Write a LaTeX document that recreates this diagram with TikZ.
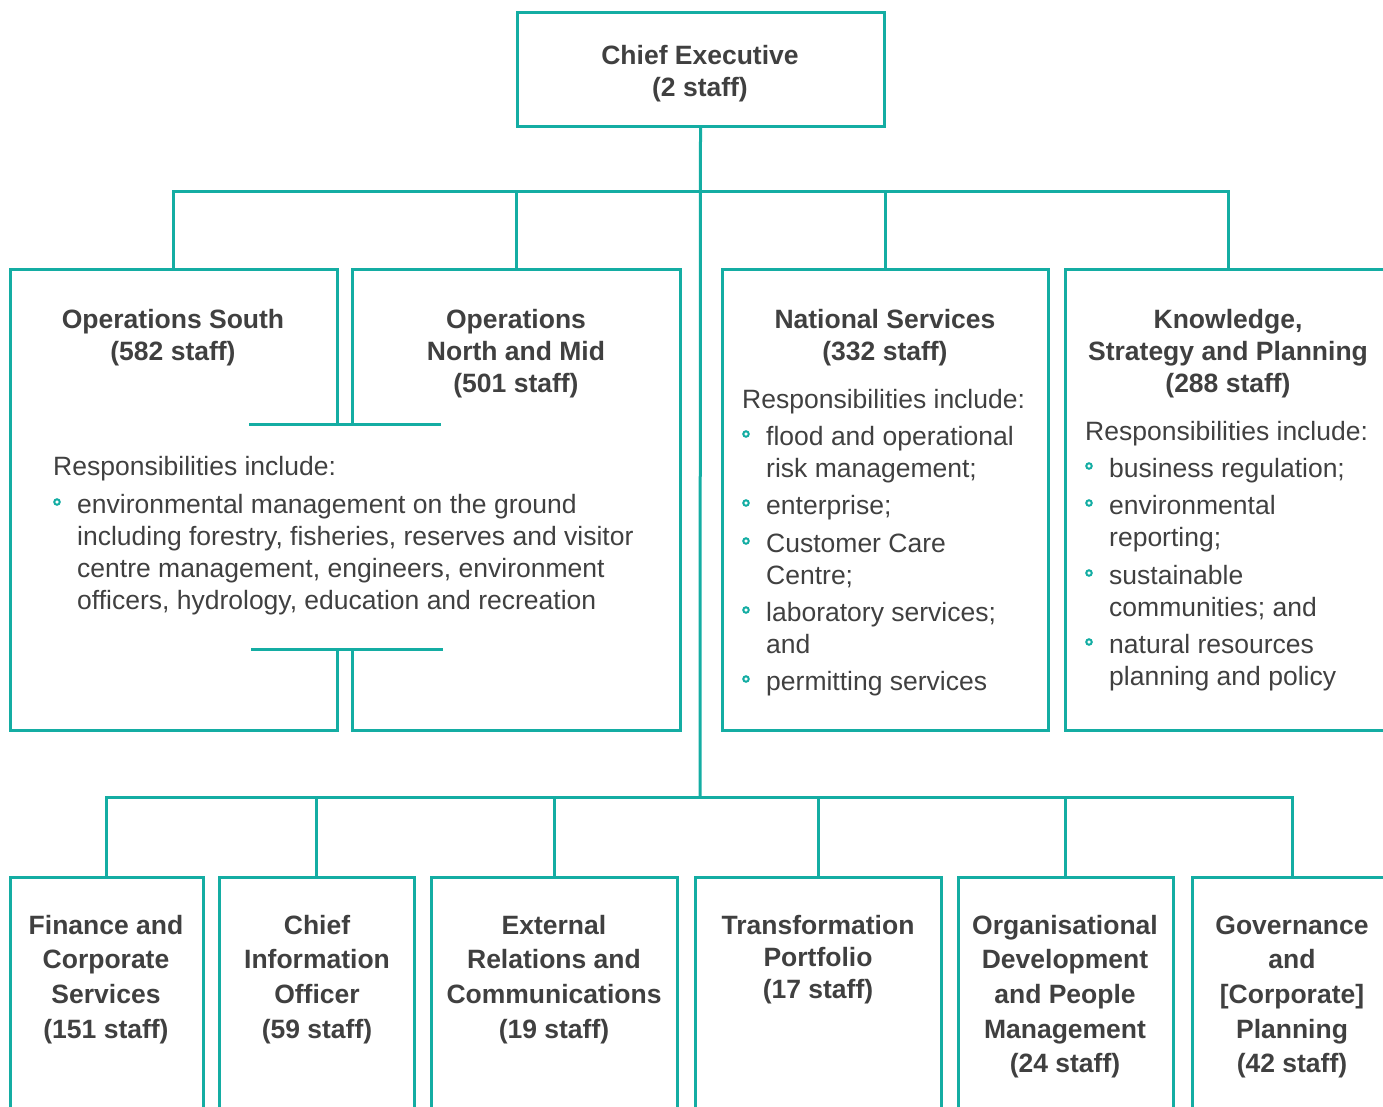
\documentclass[tikz,border=0pt]{standalone}
\usepackage{fontspec}
\setmainfont{Liberation Sans}
\definecolor{teal2}{HTML}{14ADA3}
\definecolor{txt}{HTML}{404040}
\tikzset{
 line/.style={draw=teal2, line width=3pt},
 box/.style={line, rectangle, inner sep=0pt},
 ttl/.style={text=txt, font=\bfseries\fontsize{26.5}{32}\selectfont, align=center, anchor=base, inner sep=0pt},
 ttlb/.style={ttl, font=\bfseries\fontsize{26.5}{34.7}\selectfont},
 body/.style={text=txt, font=\fontsize{26.5}{32}\selectfont, align=left, anchor=base west, inner sep=0pt},
 bul/.style={circle, draw=teal2, line width=2pt, minimum size=5.5pt, inner sep=0pt}
}
\begin{document}
\begin{tikzpicture}[x=1pt,y=-1pt]
\useasboundingbox (0,0) rectangle (1383,1106);
\clip (0,0) rectangle (1383,1106);
% boxes
\node[box, minimum width=367pt, minimum height=114pt] (ce) at (700.5,69) {};
\node[box, minimum width=326pt, minimum height=461pt] (nat) at (885,499.5) {};
\node[box, minimum width=326pt, minimum height=461pt] (kn) at (1228,499.5) {};
\node[box, minimum width=193pt, minimum height=260pt, anchor=north] (fin) at (106.5,876) {};
\node[box, minimum width=195pt, minimum height=260pt, anchor=north] (cio) at (316.5,876) {};
\node[box, minimum width=246pt, minimum height=260pt, anchor=north] (ext) at (554,876) {};
\node[box, minimum width=246pt, minimum height=260pt, anchor=north] (tra) at (818,876) {};
\node[box, minimum width=215pt, minimum height=260pt, anchor=north] (org) at (1065.5,876) {};
\node[box, minimum width=200pt, minimum height=260pt, anchor=north] (gov) at (1292,876) {};
% operations boxes
\coordinate (osTop) at (173,269);
\coordinate (onTop) at (516,269);
\draw[line] (337,424) -- (337,269) -- (10,269) -- (10,730) -- (337,730) -- (337,649);
\draw[line] (352,424) -- (352,269) -- (680,269) -- (680,730) -- (352,730) -- (352,649);
\draw[line] (249,424) -- (441,424);
\draw[line] (251,649) -- (443,649);
% connectors
\coordinate (busT) at (700,191);
\coordinate (busB) at (700,797);
\draw[line] (ce.south) -- (busB);
\draw[line] (osTop) -- (osTop |- busT) -- (kn.north |- busT) -- (kn.north);
\draw[line] (onTop) -- (onTop |- busT);
\draw[line] (nat.north) -- (nat.north |- busT);
\draw[line] (fin.north) -- (fin.north |- busB) -- (gov.north |- busB) -- (gov.north);
\draw[line] (cio.north) -- (cio.north |- busB);
\draw[line] (ext.north) -- (ext.north |- busB);
\draw[line] (tra.north) -- (tra.north |- busB);
\draw[line] (org.north) -- (org.north |- busB);
% titles (anchor = baseline of last line)
\node[ttl] (tce) at (700,96) {Chief Executive\\(2 staff)};
\node[ttl] (tos) at (173,360) {Operations South\\(582 staff)};
\node[ttl] (ton) at (516,392) {Operations\\North and Mid\\(501 staff)};
\node[ttl] (tnat) at (885,360) {National Services\\(332 staff)};
\node[ttl] (tkn) at (1228,392) {Knowledge,\\Strategy and Planning\\(288 staff)};
\node[ttlb] (tfin) at (106,1038.1) {Finance and\\Corporate\\Services\\(151 staff)};
\node[ttlb] (tcio) at (317,1038.1) {Chief\\Information\\Officer\\(59 staff)};
\node[ttlb] (text) at (554,1038.1) {External\\Relations and\\Communications\\(19 staff)};
\node[ttl] (ttra) at (818,998) {Transformation\\Portfolio\\(17 staff)};
\node[ttlb] (torg) at (1065,1072.8) {Organisational\\Development\\and People\\Management\\(24 staff)};
\node[ttlb] (tgov) at (1292,1072.8) {Governance\\and\\{[Corporate]}\\Planning\\(42 staff)};
% operations responsibilities
\node[body] (ro) at (53,475) {Responsibilities include:};
\node[bul] (bo1) at (57,502) {};
\node[body] (io1) at (77,609) {environmental management on the ground\\including forestry, fisheries, reserves and visitor\\centre management, engineers, environment\\officers, hydrology, education and recreation};
% national responsibilities
\node[body] (rn) at (742,408) {Responsibilities include:};
\node[bul] (bn1) at (746,434) {};
\node[body] (in1) at (766,477) {flood and operational\\risk management;};
\node[bul] (bn2) at (746,503) {};
\node[body] (in2) at (766,514) {enterprise;};
\node[bul] (bn3) at (746,541) {};
\node[body] (in3) at (766,584) {Customer Care\\Centre;};
\node[bul] (bn4) at (746,610) {};
\node[body] (in4) at (766,653) {laboratory services;\\and};
\node[bul] (bn5) at (746,679) {};
\node[body] (in5) at (766,690) {permitting services};
% knowledge responsibilities
\node[body] (rk) at (1085,440) {Responsibilities include:};
\node[bul] (bk1) at (1089,466) {};
\node[body] (ik1) at (1109,477) {business regulation;};
\node[bul] (bk2) at (1089,503) {};
\node[body] (ik2) at (1109,546) {environmental\\reporting;};
\node[bul] (bk3) at (1089,573) {};
\node[body] (ik3) at (1109,616) {sustainable\\communities; and};
\node[bul] (bk4) at (1089,642) {};
\node[body] (ik4) at (1109,685) {natural resources\\planning and policy};
\end{tikzpicture}
\end{document}
